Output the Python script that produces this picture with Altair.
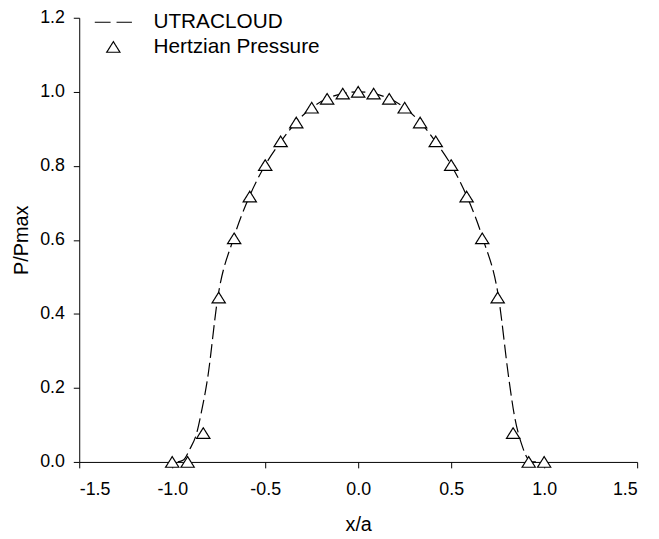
import altair as alt
import pandas as pd

# Dashed curve (UTRACLOUD)
line_x = [-0.97, -0.94, -0.905, -0.87, -0.845, -0.81, -0.755, -0.67, -0.585, -0.5,
          -0.415, -0.335, -0.25, -0.17, -0.085, 0.0, 0.085, 0.17, 0.25, 0.335,
          0.415, 0.5, 0.585, 0.67, 0.755, 0.81, 0.84, 0.88, 0.915, 0.93, 0.97]
line_y = [0.0, 0.005, 0.035, 0.075, 0.13, 0.225, 0.444, 0.604, 0.717, 0.802,
          0.866, 0.917, 0.957, 0.981, 0.995, 1.0, 0.995, 0.981, 0.957, 0.917,
          0.866, 0.802, 0.717, 0.604, 0.444, 0.225, 0.125, 0.046, 0.006, 0.0, 0.0]

# Triangles (Hertzian Pressure)
pt_x = [-1.0, -0.917, -0.833, -0.75, -0.667, -0.583, -0.5, -0.417, -0.333, -0.25,
        -0.167, -0.083, 0.0, 0.083, 0.167, 0.25, 0.333, 0.417, 0.5, 0.583,
        0.667, 0.75, 0.833, 0.917, 1.0]
pt_y = [0.0, 0.0, 0.078, 0.444, 0.604, 0.717, 0.802, 0.866, 0.917, 0.957,
        0.981, 0.995, 1.0, 0.995, 0.981, 0.957, 0.917, 0.866, 0.802, 0.717,
        0.604, 0.444, 0.078, 0.0, 0.0]

series_names = ["UTRACLOUD", "Hertzian Pressure"]
x_ticks = [-1.5, -1.0, -0.5, 0.0, 0.5, 1.0, 1.5]
y_ticks = [0.0, 0.2, 0.4, 0.6, 0.8, 1.0, 1.2]

line_df = pd.DataFrame({"x": line_x, "y": line_y, "series": series_names[0]})
pt_df = pd.DataFrame({"x": pt_x, "y": pt_y, "series": series_names[1]})

FONT = "Liberation Sans"
LBL = "replace(format(datum.value, '.1f'), '\u2212', '-')"

xs = alt.Scale(domain=[-1.5, 1.5], nice=False, zero=False)
ys = alt.Scale(domain=[0, 1.2], nice=False)

xenc = alt.X("x:Q", scale=xs, title="x/a",
             axis=alt.Axis(values=x_ticks, labelExpr=LBL))
yenc = alt.Y("y:Q", scale=ys, title="P/Pmax",
             axis=alt.Axis(values=y_ticks, labelExpr=LBL))

line = alt.Chart(line_df).mark_line(
    color="black", strokeWidth=1.2, strokeDash=[14, 5], interpolate="monotone"
).encode(x=xenc, y=yenc)

line_path = "M -2.8 0 L 2.8 0"
tri_path = "M -1 0.8 L 0 -0.8 L 1 0.8 Z"

dom = series_names
points = alt.Chart(pt_df).mark_point(
    filled=False, fill="white", strokeWidth=1.2, opacity=1, size=180
).encode(
    x=xenc, y=yenc,
    color=alt.Color("series:N", scale=alt.Scale(domain=dom, range=["black", "black"]),
                    legend=alt.Legend(title=None)),
    shape=alt.Shape("series:N", scale=alt.Scale(domain=dom, range=[line_path, tri_path]),
                    legend=alt.Legend(title=None)),
    strokeDash=alt.StrokeDash("series:N", scale=alt.Scale(domain=dom, range=[[16, 6], [1, 0]]),
                              legend=alt.Legend(title=None)),
)

chart = alt.layer(line, points).properties(
    width=564, height=449,
    autosize=alt.AutoSizeParams(type="none"),
    padding={"left": 72, "top": 7, "right": 14, "bottom": 72},
).configure_view(stroke=None).configure_axis(
    grid=False, domainColor="black", domainWidth=1, tickColor="black", tickWidth=1,
    tickSize=6, labelFont=FONT, labelFontSize=18, labelColor="black",
    titleFont=FONT, titleFontSize=20, titleFontWeight="normal", titleColor="black",
).configure_axisX(labelPadding=13, titlePadding=16).configure_axisY(
    labelPadding=9, titlePadding=8
).configure_legend(
    orient="none", legendX=24, legendY=-6, padding=0, rowPadding=3,
    labelFont=FONT, labelFontSize=21, labelColor="black", labelOffset=30, labelLimit=0,
    symbolStrokeColor="black", symbolFillColor="white", symbolStrokeWidth=1.2,
    symbolSize=180, symbolOpacity=1,
)

chart.save("out.html", embed_options={"renderer": "svg", "actions": False})
